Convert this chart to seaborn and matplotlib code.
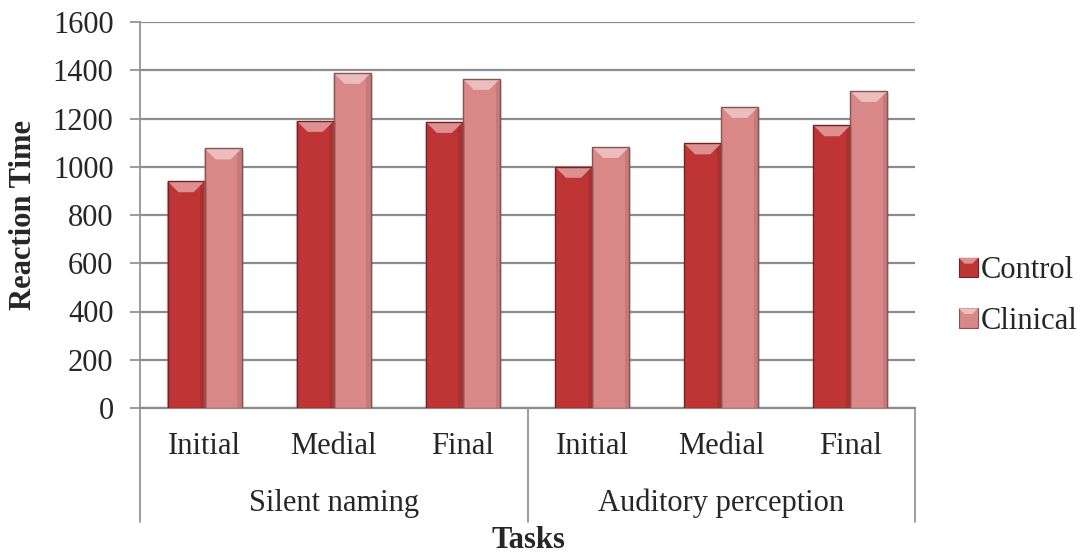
import numpy as np
import pandas as pd
import matplotlib
matplotlib.use("Agg")
import matplotlib.pyplot as plt
import seaborn as sns
from matplotlib.patches import Polygon, Patch, Rectangle
from matplotlib.legend_handler import HandlerPatch
import matplotlib.colors as mcolors

# Reaction-time data
tasks = ["Silent naming", "Auditory perception"]
positions = ["Initial", "Medial", "Final"]
groups = ["Control", "Clinical"]
control_rt = [940, 1190, 1186, 1000, 1097, 1172]
clinical_rt = [1076, 1389, 1364, 1082, 1248, 1314]
y_ticks = [0, 200, 400, 600, 800, 1000, 1200, 1400, 1600]

colors = {"Control": "#BF3536", "Clinical": "#DA8787"}

rows = []
keys = []
for ti, task in enumerate(tasks):
    for pi, pos in enumerate(positions):
        key = f"{task}|{pos}"
        keys.append(key)
        idx = ti * len(positions) + pi
        rows.append({"cell": key, "group": "Control", "rt": control_rt[idx]})
        rows.append({"cell": key, "group": "Clinical", "rt": clinical_rt[idx]})
df = pd.DataFrame(rows)

sns.set_style("white")
plt.rcParams["font.family"] = ["Liberation Serif", "DejaVu Serif"]
FS = 22

fig = plt.figure(figsize=(10.85, 5.6), dpi=100)
W, H = 1085, 560
ax = fig.add_axes([140 / W, 1 - 408 / H, (915 - 140) / W, (408 - 22) / H])

sns.barplot(data=df, x="cell", y="rt", hue="group", order=keys,
            hue_order=groups, palette=colors, width=0.574, saturation=1,
            edgecolor="none", linewidth=0, legend=False, ax=ax, zorder=3)

ax.set_ylim(0, 1600)
ax.set_xlim(-0.5, len(keys) - 0.5)
ax.set_yticks(y_ticks)
ax.set_yticklabels([str(v) for v in y_ticks], fontsize=FS)
ax.yaxis.grid(True, color="#8C8C8C", linewidth=1.6, zorder=0)
ax.set_axisbelow(True)
ax.tick_params(axis="y", length=7, width=1.2, color="#8C8C8C", pad=12, direction="out", left=True)
ax.tick_params(axis="x", length=0, labelbottom=False)
for side in ["top", "right"]:
    ax.spines[side].set_visible(False)
ax.spines["left"].set_color("#8C8C8C")
ax.spines["left"].set_linewidth(1.2)
ax.spines["bottom"].set_color("#8C8C8C")
ax.spines["bottom"].set_linewidth(1.6)
ax.set_xlabel("")
ax.set_ylabel("")

# Bevelled look for each bar, built from the bar patches themselves
fig.canvas.draw()
px_y = 1600 / (408 - 22)        # data units per pixel vertically
px_x = len(keys) / (915 - 140)  # data units per pixel horizontally
bevel = 11
for bar in list(ax.patches):
    x0, w, h = bar.get_x(), bar.get_width(), bar.get_height()
    base = mcolors.to_rgb(bar.get_facecolor())
    light = tuple(min(1, c + (1 - c) * 0.45) for c in base)
    dark = tuple(c * 0.62 for c in base)
    mid_dark = tuple(c * 0.85 for c in base)
    by = bevel * px_y
    bx = bevel * px_x
    # shadow
    ax.add_patch(Rectangle((x0 + 2 * px_x, 0), w, h - 2 * px_y, facecolor="#000000",
                           alpha=0.12, edgecolor="none", zorder=2))
    # side shading
    ax.add_patch(Rectangle((x0 + w - 0.12 * w, 0), 0.12 * w, h, facecolor=mid_dark,
                           edgecolor="none", zorder=3.2, alpha=0.6))
    # top bevel
    ax.add_patch(Polygon([(x0, h), (x0 + w, h), (x0 + w - bx, h - by), (x0 + bx, h - by)],
                         closed=True, facecolor=light, edgecolor="none", zorder=3.5))
    ax.add_patch(Polygon([(x0, h), (x0 + bx, h - by), (x0 + bx, 0), (x0, 0)],
                         closed=True, facecolor=base, edgecolor="none", zorder=3.4))
    ax.add_patch(Rectangle((x0, 0), w, h, facecolor="none", edgecolor=dark,
                           linewidth=1.0, zorder=3.6))

# Category and group labels below the axis
trans = ax.get_xaxis_transform()
def y_ax(py):
    return (408 - py) / (408 - 22)

for i, key in enumerate(keys):
    ax.text(i, y_ax(447), key.split("|")[1], transform=trans, ha="center", va="center",
            fontsize=FS, clip_on=False)
for ti, task in enumerate(tasks):
    center = ti * len(positions) + (len(positions) - 1) / 2
    ax.text(center, y_ax(503), task, transform=trans, ha="center", va="center",
            fontsize=FS, clip_on=False)
for xb in [-0.5, 2.5, 5.5]:
    ax.plot([xb, xb], [0, y_ax(522)], transform=trans, color="#8C8C8C",
            linewidth=1.2, clip_on=False)

fig.text(528 / W, 1 - 541 / H, "Tasks", ha="center", va="center",
         fontsize=FS, fontweight="bold")
fig.text(24 / W, 1 - 215 / H, "Reaction Time", ha="center", va="center",
         rotation=90, fontsize=FS, fontweight="bold")

# Legend
class BevelHandler(HandlerPatch):
    def create_artists(self, legend, orig_handle, xdescent, ydescent, width, height, fontsize, trans):
        base = mcolors.to_rgb(orig_handle.get_facecolor())
        light = tuple(min(1, c + (1 - c) * 0.45) for c in base)
        dark = tuple(c * 0.62 for c in base)
        s = height
        x = -xdescent + (width - s) / 2
        y = -ydescent
        sq = Rectangle((x, y), s, s, facecolor=base, edgecolor=dark, linewidth=0.8, transform=trans)
        b = s * 0.3
        tri = Polygon([(x, y + s), (x + s, y + s), (x + s - b, y + s - b), (x + b, y + s - b)],
                      closed=True, facecolor=light, edgecolor="none", transform=trans)
        return [sq, tri]

handles = [Patch(facecolor=colors[g], label=g) for g in groups]
fig.legend(handles=handles, loc="center left", bbox_to_anchor=(944 / W, 1 - 296 / H),
           frameon=False, fontsize=FS, handlelength=0.6, handleheight=0.6,
           handletextpad=0.1, labelspacing=0.7, borderpad=0,
           handler_map={Patch: BevelHandler()})

fig.savefig("out.png", dpi=100)
